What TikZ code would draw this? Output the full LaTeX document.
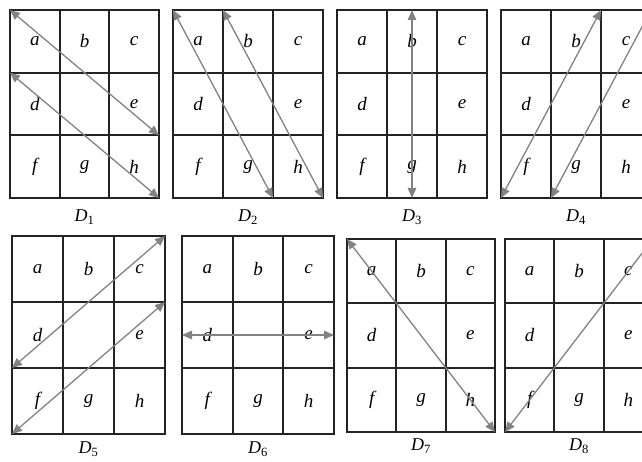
\documentclass[tikz,border=0pt]{standalone}
\usepackage{fontspec}
\setmainfont{Liberation Serif}
\usetikzlibrary{arrows.meta}
\usetikzlibrary{positioning}

\definecolor{gridgray}{RGB}{35,35,35}
\definecolor{arrowgray}{RGB}{130,130,130}

\tikzset{
    cellline/.style={draw=gridgray,line width=1.8pt},
    dirarrow/.style={draw=arrowgray,line width=1.3pt,
        {Triangle[length=10pt,width=8.5pt,fill=arrowgray]}-{Triangle[length=10pt,width=8.5pt,fill=arrowgray]}},
    letter/.style={font=\fontsize{19}{19}\selectfont\itshape},
    caption/.style={font=\fontsize{18}{18}\selectfont}
}

\begin{document}
\begin{tikzpicture}[x=1pt,y=-1pt]
            \useasboundingbox (0,0) rectangle (642,462);
            \clip (0,0) rectangle (642,462);

            \foreach \n/\x/\y/\w/\h/\ly in {1/10/10/149/188/217,2/173/10/150/188/217,3/337/10/150/188/217,4/501/10/150/188/217,5/12/236/153/198/449,6/182/236/152/198/449,7/347/239/148/193/446,8/505/239/148/193/446}{
                \foreach \i in {0,...,3}{
                    \foreach \j in {0,...,3}{
                        \coordinate (p\n-\i\j) at ({\x+\i*\w/3},{\y+\j*\h/3});
                    }
                }
                \coordinate (p\n-top) at ({\x+\w/2},\y);
                \coordinate (p\n-bot) at ({\x+\w/2},{\y+\h});
                \coordinate (p\n-left) at (\x,{\y+\h/2});
                \coordinate (p\n-right) at ({\x+\w},{\y+\h/2});

                \draw[cellline] (p\n-00) rectangle (p\n-33);
                \foreach \k in {1,2}{
                    \draw[cellline] (p\n-\k0)--(p\n-\k3);
                    \draw[cellline] (p\n-0\k)--(p\n-3\k);
                }

                \foreach \l/\c/\r in {a/0/0,b/1/0,c/2/0,d/0/1,e/2/1,f/0/2,g/1/2,h/2/2}{
                    \node[letter] (\l\n) at ({\x+(\c+0.5)*\w/3},{\y+(\r+0.5)*\h/3}) {\l};
                }

                \node[caption] (D\n) at ({\x+\w/2},\ly) {\textit{D}\textsubscript{\n}};
            }

            \draw[dirarrow] (p1-00)--(p1-32);
            \draw[dirarrow] (p1-01)--(p1-33);
            \draw[dirarrow] (p2-00)--(p2-23);
            \draw[dirarrow] (p2-10)--(p2-33);
            \draw[dirarrow] (p3-top)--(p3-bot);
            \draw[dirarrow] (p4-03)--(p4-20);
            \draw[dirarrow] (p4-13)--(p4-30);
            \draw[dirarrow] (p5-02)--(p5-30);
            \draw[dirarrow] (p5-03)--(p5-31);
            \draw[dirarrow] (p6-left)--(p6-right);
            \draw[dirarrow] (p7-00)--(p7-33);
            \draw[dirarrow] (p8-03)--(p8-30);
        \end{tikzpicture}
\end{document}
